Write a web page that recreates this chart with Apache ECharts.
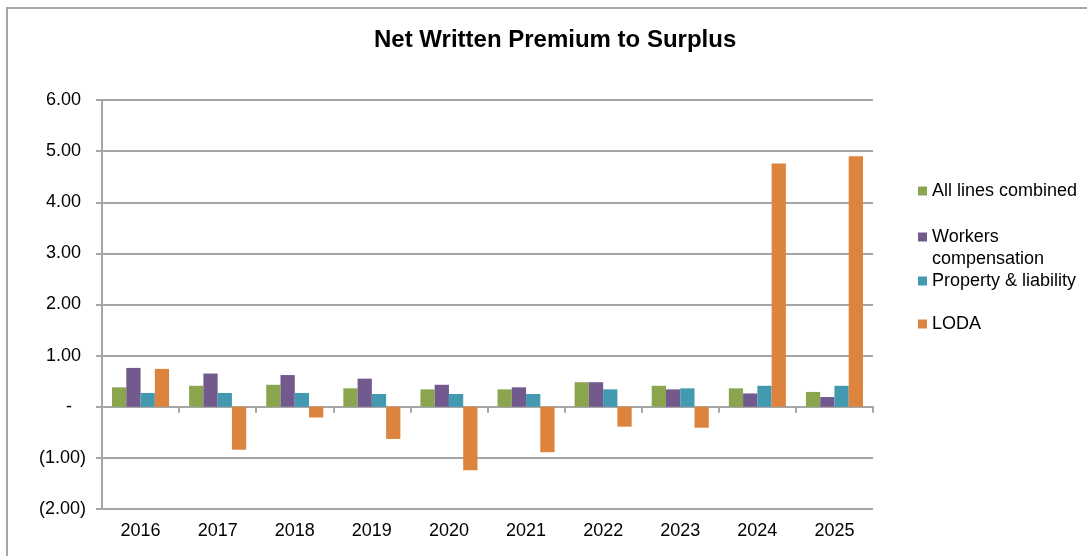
<!DOCTYPE html>
<html>
<head>
<meta charset="utf-8">
<script src="https://cdn.jsdelivr.net/npm/echarts@6/dist/echarts.min.js"></script>
<style>
  html, body { margin: 0; padding: 0; background: #fff; }
  #chart { width: 1087px; height: 556px; }
</style>
</head>
<body>
<div id="chart"></div>
<script>
// Net written premium to surplus ratios, by year and line of business
const years = ['2016', '2017', '2018', '2019', '2020', '2021', '2022', '2023', '2024', '2025'];
const allLines = [0.38, 0.41, 0.43, 0.36, 0.34, 0.34, 0.48, 0.41, 0.36, 0.29];
const workersComp = [0.76, 0.65, 0.62, 0.55, 0.43, 0.38, 0.48, 0.34, 0.26, 0.19];
const propertyLiability = [0.27, 0.27, 0.27, 0.25, 0.25, 0.25, 0.34, 0.36, 0.41, 0.41];
const loda = [0.74, -0.84, -0.21, -0.63, -1.24, -0.89, -0.39, -0.41, 4.76, 4.90];

const seriesNames = ['All lines combined', 'Workers compensation', 'Property & liability', 'LODA'];
const colors = ['#8ba54f', '#725a8f', '#4299b0', '#dc843e'];

const FONT = '"Liberation Sans", Arial, sans-serif';
const gridColor = '#a6a6a6';

// Accounting-style tick labels: dash for zero, parentheses for negatives,
// with positives padded so their digits line up with the bracketed ones
function fmt(v) {
  if (Math.abs(v) < 1e-9) return '{z|-}';
  const s = Math.abs(v).toFixed(2);
  return v < 0 ? '{n|(' + s + ')}' : '{p|' + s + '}';
}

// Two-line legend entry keeps its marker beside the first line
const tallIcon = 'image://data:image/svg+xml;utf8,' + encodeURIComponent(
  '<svg xmlns="http://www.w3.org/2000/svg" width="9" height="44" viewBox="0 0 9 44">' +
  '<rect x="0" y="6.5" width="9" height="9" fill="' + colors[1] + '"/></svg>');

function legendFor(i, top, opts) {
  return Object.assign({
    show: true,
    data: [seriesNames[i]],
    left: 918,
    top: top,
    padding: 0,
    itemWidth: 9,
    itemHeight: 9,
    icon: 'rect',
    selectedMode: false,
    textStyle: { fontFamily: FONT, fontSize: 18, color: '#000', lineHeight: 22 }
  }, opts || {});
}

const labelText = { fontFamily: FONT, fontSize: 18, color: '#000' };

const chart = echarts.init(document.getElementById('chart'), null, { renderer: 'canvas' });

chart.setOption({
  animation: false,
  color: colors,
  title: {
    text: 'Net Written Premium to Surplus',
    left: 369,
    top: 23,
    textStyle: { fontFamily: FONT, fontSize: 24, fontWeight: 'bold', color: '#000' }
  },
  graphic: [{
    type: 'rect',
    shape: { x: 7, y: 8, width: 1200, height: 1000 },
    style: { fill: 'none', stroke: gridColor, lineWidth: 2 },
    silent: true
  }],
  legend: [
    legendFor(0, 180),
    legendFor(1, 226, {
      itemHeight: 44,
      data: [{ name: seriesNames[1], icon: tallIcon }],
      formatter: () => 'Workers\ncompensation',
      textStyle: { fontFamily: FONT, fontSize: 18, color: '#000', lineHeight: 22 }
    }),
    legendFor(2, 270),
    legendFor(3, 313)
  ],
  grid: { left: 102, right: 214, top: 100, bottom: 47, containLabel: false },
  xAxis: [
    {
      type: 'category',
      data: years,
      position: 'bottom',
      axisLine: { show: false, onZero: false },
      axisTick: { show: false },
      axisLabel: Object.assign({ margin: 13 }, labelText),
      splitLine: { show: false }
    },
    {
      type: 'category',
      data: years,
      position: 'top',
      axisLine: { show: true, onZero: true, lineStyle: { color: gridColor, width: 2 } },
      axisTick: { show: true, inside: true, length: 6, lineStyle: { color: gridColor, width: 2 } },
      axisLabel: { show: false },
      splitLine: { show: false }
    }
  ],
  yAxis: {
    type: 'value',
    min: -2,
    max: 6,
    interval: 1,
    axisLine: { show: true, lineStyle: { color: gridColor, width: 2 } },
    axisTick: { show: true, length: 6, lineStyle: { color: gridColor, width: 2 } },
    axisLabel: Object.assign({
      margin: 16,
      formatter: fmt,
      rich: {
        p: Object.assign({ padding: [0, 5, 0, 0] }, labelText),
        n: Object.assign({}, labelText),
        z: Object.assign({ padding: [0, 14, 0, 0] }, labelText)
      }
    }, labelText),
    splitLine: { show: true, lineStyle: { color: gridColor, width: 2 } }
  },
  series: [allLines, workersComp, propertyLiability, loda].map((d, i) => ({
    name: seriesNames[i],
    type: 'bar',
    xAxisIndex: 0,
    data: d,
    barGap: '0%',
    barCategoryGap: '26%',
    itemStyle: { color: colors[i] }
  }))
});
</script>
</body>
</html>
